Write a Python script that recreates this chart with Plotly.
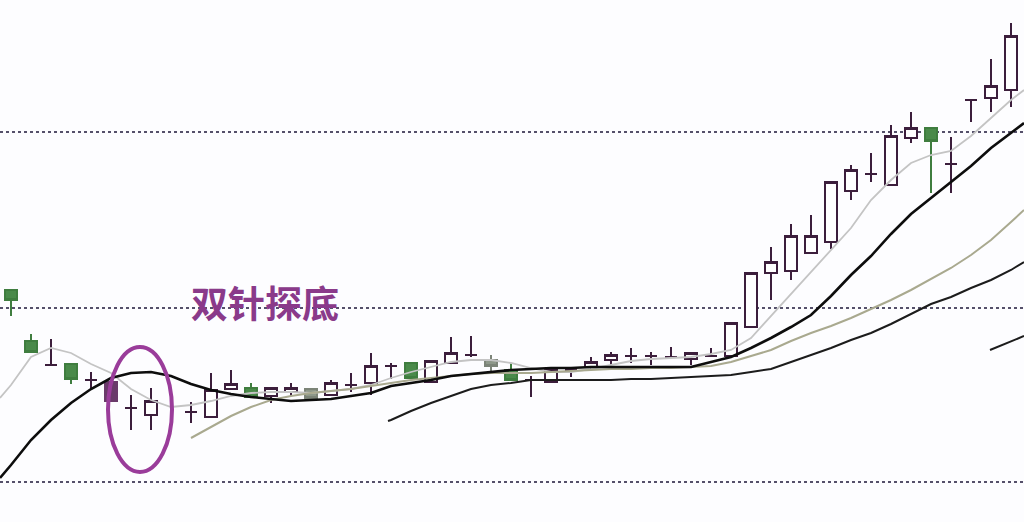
import plotly.graph_objects as go

# ---------------- data (prices) ----------------
# candle index (trading day), open, high, low, close
up_x     = [7, 10, 11, 13, 14, 16, 18, 21, 22, 27, 29, 30, 34, 36, 37, 38, 39, 40, 41, 42, 44, 45, 49, 50]
up_open  = [10.7, 10.5, 13.3, 12.6, 13.0, 12.7, 13.9, 14.0, 15.9, 14.0, 15.5, 16.2, 16.3, 16.6, 19.5, 24.9, 25.1, 26.9, 28.0, 33.1, 33.7, 38.4, 42.4, 43.2]
up_high  = [13.4, 14.9, 15.2, 13.4, 13.9, 14.2, 16.9, 16.1, 18.5, 15.2, 16.5, 17.0, 17.0, 19.9, 24.9, 27.5, 29.8, 30.7, 34.0, 35.7, 39.7, 41.0, 46.3, 49.9]
up_low   = [9.2, 10.5, 13.3, 11.9, 12.6, 12.6, 12.7, 14.0, 15.9, 14.0, 15.2, 15.7, 15.7, 16.6, 19.5, 22.2, 24.2, 26.9, 27.3, 32.2, 33.7, 37.9, 41.0, 41.5]
up_close = [12.1, 13.2, 13.8, 13.4, 13.4, 13.9, 15.6, 16.1, 16.9, 15.2, 16.0, 16.7, 16.9, 19.9, 24.9, 26.0, 28.6, 28.6, 34.0, 35.2, 38.6, 39.4, 43.6, 48.6]

down_x     = [0, 1, 3, 12, 20, 25, 46]
down_open  = [23.2, 18.1, 15.8, 13.4, 15.9, 15.2, 39.4]
down_high  = [23.3, 18.8, 15.8, 13.9, 15.9, 15.9, 39.4]
down_low   = [20.6, 16.9, 13.8, 12.5, 14.4, 14.2, 32.9]
down_close = [22.2, 17.0, 14.3, 12.5, 14.4, 14.2, 38.1]

grey_x     = [15, 24]
grey_open  = [13.3, 16.2]
grey_high  = [13.3, 16.7]
grey_low   = [12.4, 14.9]
grey_close = [12.4, 15.6]

doji_x     = [2, 4, 6, 9, 17, 19, 23, 26, 28, 31, 32, 33, 35, 43, 47, 48]
doji_price = [15.7, 14.2, 11.4, 11.0, 13.7, 15.6, 16.7, 14.2, 15.2, 16.6, 16.6, 16.5, 16.6, 34.8, 35.8, 42.2]
doji_high  = [18.3, 15.0, 12.7, 12.0, 14.9, 15.9, 18.6, 14.6, 15.2, 17.4, 17.0, 17.5, 17.4, 36.9, 38.5, 42.2]
doji_low   = [15.7, 13.4, 9.2, 9.9, 13.0, 14.3, 16.5, 12.5, 14.5, 15.9, 15.7, 16.4, 16.5, 34.0, 32.9, 40.0]

pin_x     = [5]
pin_open  = [14.0]
pin_high  = [14.2]
pin_low   = [12.1]
pin_close = [12.1]

# moving averages
ma5_x = [-0.55] + list(range(51)) + [50.65]
ma5 = [12.4, 13.7, 16.5, 17.4, 16.9, 15.8, 14.9, 13.3, 12.2, 11.5, 11.7, 12.1, 12.6, 12.9, 13.0, 13.0,
       12.9, 13.1, 13.3, 13.7, 14.4, 15.0, 15.5, 16.0, 16.2, 16.2, 15.9, 15.4, 15.0, 15.0, 15.3, 15.7,
       16.1, 16.3, 16.4, 16.5, 16.8, 17.2, 18.4, 20.6, 22.8, 25.0, 27.2, 29.4, 32.2, 34.2, 35.9, 36.7,
       37.1, 38.6, 40.4, 42.2, 43.2]

ma10_x = [-0.55] + list(range(51)) + [50.65]
ma10 = [4.4, 5.7, 8.2, 10.2, 11.9, 13.3, 14.4, 14.9, 15.0, 14.6, 13.8, 13.2, 12.8, 12.5, 12.3, 12.1,
        12.2, 12.3, 12.6, 12.9, 13.6, 13.9, 14.2, 14.6, 14.8, 15.0, 15.2, 15.3, 15.4, 15.4, 15.5, 15.5,
        15.5, 15.5, 15.5, 15.5, 16.0, 16.5, 17.4, 18.4, 19.5, 20.7, 22.6, 24.7, 26.6, 28.8, 30.8, 32.4,
        34.0, 35.6, 37.4, 38.9, 39.9]

ma20_x = list(range(9, 51)) + [50.65]
ma20 = [8.4, 9.5, 10.6, 11.5, 12.2, 12.6, 12.9, 13.1, 13.3, 13.6, 13.9, 14.2, 14.4, 14.6, 14.8, 14.9,
        14.9, 14.9, 15.0, 15.1, 15.2, 15.3, 15.3, 15.4, 15.4, 15.5, 15.6, 16.0, 16.6, 17.2, 18.1, 18.9,
        19.6, 20.4, 21.3, 22.2, 23.2, 24.3, 25.4, 26.7, 28.2, 30.0, 31.2]

ma30_x = [18.85] + list(range(19, 51)) + [50.65]
ma30 = [10.1, 10.2, 11.1, 11.9, 12.6, 13.3, 13.7, 13.9, 14.2, 14.2, 14.2, 14.2, 14.2, 14.3, 14.3, 14.4,
        14.5, 14.6, 14.7, 15.0, 15.3, 16.0, 16.7, 17.4, 18.2, 18.9, 19.8, 20.8, 21.8, 22.5, 23.4, 24.2,
        25.2, 26.0]

ma60_x = [48.95, 50.65]
ma60 = [17.2, 18.6]

grid_levels = [4.0, 21.4, 39.0]
label_text = "双针探底"

# ---------------- figure ----------------
PURPLE = "#3c1e3c"
GREEN = "#3f7d3f"

fig = go.Figure()

fig.add_trace(go.Scatter(x=ma5_x, y=ma5, mode="lines", line=dict(color="#c4c4c4", width=1.8), hoverinfo="skip"))
fig.add_trace(go.Scatter(x=ma20_x, y=ma20, mode="lines", line=dict(color="#a9a98f", width=2), hoverinfo="skip"))
fig.add_trace(go.Scatter(x=ma30_x, y=ma30, mode="lines", line=dict(color="#1c1c1c", width=2), hoverinfo="skip"))
fig.add_trace(go.Scatter(x=ma60_x, y=ma60, mode="lines", line=dict(color="#1c1c1c", width=2), hoverinfo="skip"))
fig.add_trace(go.Scatter(x=ma10_x, y=ma10, mode="lines", line=dict(color="#0d0d0d", width=2.6), hoverinfo="skip"))


def candles(x, o, h, l, c, line_col, fill_col):
    return go.Candlestick(
        x=x, open=o, high=h, low=l, close=c,
        increasing=dict(line=dict(color=line_col, width=2), fillcolor=fill_col),
        decreasing=dict(line=dict(color=line_col, width=2), fillcolor=fill_col),
        whiskerwidth=0, hoverinfo="skip",
    )


fig.add_trace(candles(up_x, up_open, up_high, up_low, up_close, PURPLE, "#ffffff"))
fig.add_trace(candles(down_x, down_open, down_high, down_low, down_close, GREEN, "#4a8a4a"))
fig.add_trace(candles(grey_x, grey_open, grey_high, grey_low, grey_close, "#7c8478", "#8e988a"))
fig.add_trace(candles(doji_x, doji_price, doji_high, doji_low, doji_price, PURPLE, PURPLE))
fig.add_trace(candles(pin_x, pin_open, pin_high, pin_low, pin_close, "#6a3a6a", "#6a3a6a"))

# highlight ellipse around the double-pin bottom
fig.add_shape(type="circle", xref="x", yref="y", x0=4.85, x1=8.05, y0=5.0, y1=17.5,
              line=dict(color="#9a3c9a", width=4), layer="above")

fig.add_annotation(x=12.7, y=22.0, xref="x", yref="y", text=label_text, showarrow=False,
                   font=dict(family="Noto Sans CJK SC", size=37, color="#8a3a8a", weight="bold"))

fig.update_layout(
    width=1024, height=522,
    margin=dict(l=0, r=0, t=0, b=0),
    paper_bgcolor="#ffffff", plot_bgcolor="#fdfdff",
    showlegend=False,
    boxgap=0.4, boxgroupgap=0,
    xaxis=dict(range=[-0.55, 50.65], showgrid=False, zeroline=False, showticklabels=False,
               ticks="", showline=False, rangeslider=dict(visible=False), fixedrange=True),
    yaxis=dict(range=[0, 52.2], tickvals=grid_levels, showgrid=True, gridcolor="#55506a",
               griddash="dot", gridwidth=1.5, zeroline=False, showticklabels=False, ticks="",
               showline=False, fixedrange=True),
)

fig.write_html("out.html", config={"displayModeBar": False},
               post_script="document.body.style.margin='0px';")
